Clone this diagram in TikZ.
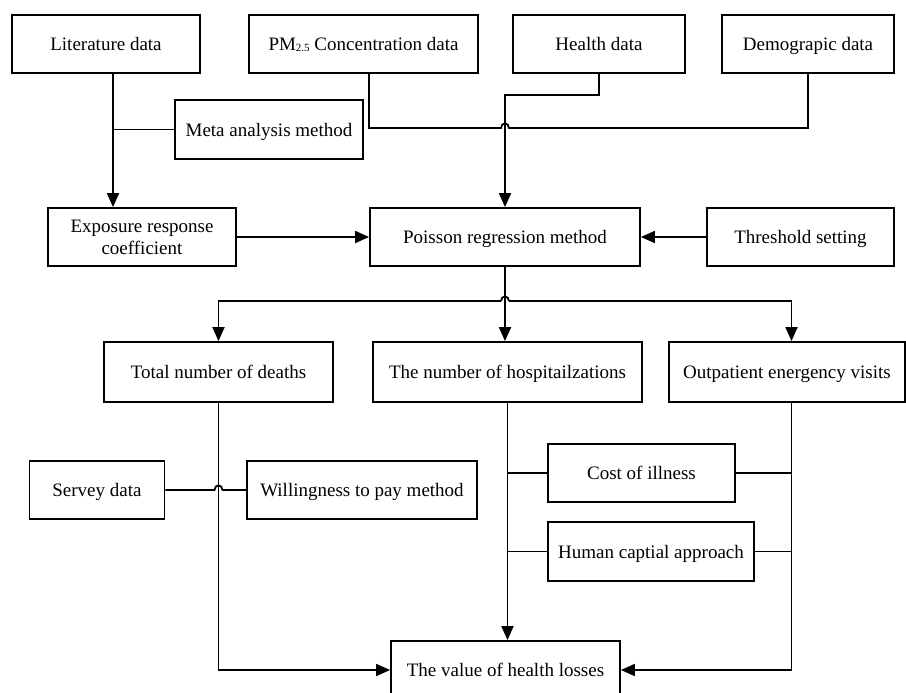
\documentclass[tikz,border=0pt]{standalone}
\usepackage{fontspec}
\setmainfont{Liberation Serif}
\usetikzlibrary{arrows.meta, positioning, calc}

\begin{document}
\begin{tikzpicture}[x=1pt, y=-1pt,
  cell/.style={draw, line width=1.8pt, minimum height=58pt, inner sep=2pt, align=center, font=\fontsize{19}{22}\selectfont},
  box/.style={cell, text height=14pt, text depth=1pt},
  link/.style={line width=1.8pt},
  arr/.style={link, -{Triangle[length=14pt, width=12pt]}}]
  \useasboundingbox (0,0) rectangle (906,693);
  \clip (0,0) rectangle (906,693);

  % data sources
  \node[box, minimum width=188pt] (lit) at (106,44) {Literature data};
  \node[box, minimum width=229pt] (pm) at (363.5,44) {PM\raisebox{-1pt}{\fontsize{11}{11}\selectfont 2.5} Concentration data};
  \node[box, minimum width=172pt] (health) at (599,44) {Health data};
  \node[box, minimum width=172pt] (demo) at (808,44) {Demograpic data};
  \node[box, minimum width=188pt, minimum height=59pt] (meta) at (269,129.5) {Meta analysis method};

  % regression row
  \node[cell, minimum width=188pt] (expo) at (142,237) {Exposure response\\coefficient};
  \node[box, minimum width=270pt] (poisson) at (505,237) {Poisson regression method};
  \node[box, minimum width=187pt] (thresh) at (800.5,237) {Threshold setting};

  % health end points
  \node[box, minimum width=229pt, minimum height=60pt] (deaths) at (218.5,372) {Total number of deaths};
  \node[box, minimum width=269pt, minimum height=60pt] (hosp) at (507.5,372) {The number of hospitailzations};
  \node[box, minimum width=236pt, minimum height=60pt] (outp) at (787,372) {Outpatient energency visits};

  % valuation methods
  \node[box, minimum width=135pt] (servey) at (97,490) {Servey data};
  \node[box, minimum width=230pt] (wtp) at (362,490) {Willingness to pay method};
  \node[box, minimum width=187pt] (cost) at (641.5,473) {Cost of illness};
  \node[box, minimum width=206pt, minimum height=59pt] (hca) at (651,551.5) {Human captial approach};
  \node[box, minimum width=229pt] (value) at (505.5,670) {The value of health losses};

  \coordinate (litx) at ([xshift=7pt]lit.south);
  \coordinate (outx) at ([xshift=4.5pt]outp.south);
  \coordinate (hopA) at (poisson.north |- 0,128);
  \coordinate (hopB) at (poisson.south |- 0,301);
  \coordinate (hopC) at (deaths.south |- servey.east);

  % top part
  \draw[arr] (litx) -- (litx |- expo.north);
  \draw[link] (meta.west) -- (meta.west -| litx);
  \draw[link] ([xshift=5.5pt]pm.south) |- ([xshift=-4pt]hopA) .. controls +(0,-6) and +(0,-6) .. ([xshift=4pt]hopA) -| (demo.south);
  \draw[arr] (health.south) -- ++(0,21) -| (poisson.north);
  \draw[arr] (expo.east) -- (poisson.west);
  \draw[arr] (thresh.west) -- (poisson.east);

  % branches
  \draw[arr] (poisson.south) -- (poisson.south |- hosp.north);
  \draw[arr] ([xshift=-4pt]hopB) -| (deaths.north);
  \draw[arr] ([xshift=4pt]hopB) -| (outx |- outp.north);
  \draw[link] ([xshift=-4pt]hopB) .. controls +(0,-6) and +(0,-6) .. ([xshift=4pt]hopB);

  % valuation
  \draw[arr] (deaths.south) |- (value.west);
  \draw[arr] (hosp.south) -- (hosp.south |- value.north);
  \draw[arr] (outx) |- (value.east);
  \draw[link] (servey.east) -- ([xshift=-4pt]hopC) .. controls +(0,-6) and +(0,-6) .. ([xshift=4pt]hopC) -- (wtp.west);
  \draw[link] (cost.west) -- (cost.west -| hosp.south);
  \draw[link] (cost.east) -- (cost.east -| outx);
  \draw[link] (hca.west) -- (hca.west -| hosp.south);
  \draw[link] (hca.east) -- (hca.east -| outx);
\end{tikzpicture}
\end{document}
